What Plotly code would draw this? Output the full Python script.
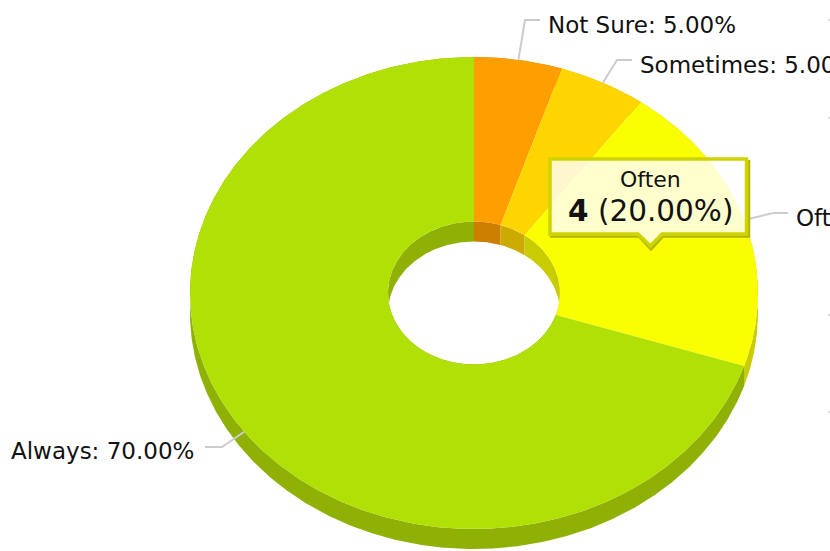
import numpy as np
import plotly.graph_objects as go

categories = ["Not Sure", "Sometimes", "Often", "Always"]
counts = [1, 1, 4, 14]
colors = ["#FF9E00", "#FFD500", "#F9FF00", "#B0E006"]
side_colors = ["#CC7E00", "#CCAA00", "#C8CC00", "#8FB005"]

W, H = 830, 551
CX, CY, RX, RY = 474, 293, 284, 236
DEPTH = 20 / RY
HOLE = 0.303


def px(x, y):
    return (x - CX) / RX, (CY - y) / RY


def arc(a0, a1, r, dy=0.0):
    t = np.radians(np.linspace(a0, a1, max(int(a1 - a0) * 2, 12)))
    return r * np.sin(t), r * np.cos(t) - dy


def band(a0, a1, r0, dy0, r1, dy1):
    x0, y0 = arc(a0, a1, r0, dy0)
    x1, y1 = arc(a0, a1, r1, dy1)
    return np.r_[x0, x1[::-1], x0[0]], np.r_[y0, y1[::-1], y0[0]]


total = sum(counts)
shares = [c / total for c in counts]
edges = np.r_[0, np.cumsum(shares)] * 360
fig = go.Figure()


def fill(x, y, color):
    fig.add_trace(go.Scatter(x=x, y=y, mode="lines", fill="toself", fillcolor=color,
                             line=dict(width=0, color=color), hoverinfo="skip", showlegend=False))


# depth walls first, top faces cover whatever should not show
for i in range(len(counts)):
    fill(*band(edges[i], edges[i + 1], 1, 0, 1, DEPTH), side_colors[i])
for i in range(len(counts)):
    fill(*band(edges[i], edges[i + 1], HOLE, 0, HOLE, DEPTH), side_colors[i])
for i in range(len(counts)):
    fill(*band(edges[i], edges[i + 1], 1, 0, HOLE, 0), colors[i])

# label connectors and labels
knees = [(525, 20), (617, 60), (773, 213), (222, 447)]
ends = [(540, 20), (632, 60), (788, 213), (205, 447)]
label_pos = [(546, 25), (638, 65), (794, 218), (195.5, 451)]
annotations = []
for i, name in enumerate(categories):
    mid_deg = (edges[i] + edges[i + 1]) / 2
    mid = np.radians(mid_deg)
    kx, ky = px(*knees[i])
    ex, ey = px(*ends[i])
    fig.add_trace(go.Scatter(x=[np.sin(mid), kx, ex], y=[np.cos(mid), ky, ey], mode="lines",
                             line=dict(color="#CCCCCC", width=2), hoverinfo="skip", showlegend=False))
    annotations.append(dict(
        x=label_pos[i][0] / W, y=1 - label_pos[i][1] / H, xref="paper", yref="paper",
        text=f"{name}: {shares[i] * 100:.2f}%", showarrow=False,
        xanchor="left" if mid_deg < 180 else "right", yanchor="middle",
        font=dict(family="DejaVu Sans", size=23, color="#111111"),
    ))

# off-canvas connector stubs at the right edge
shapes = [dict(type="line", xref="paper", yref="paper", x0=828 / W, x1=1, y0=1 - y / H, y1=1 - y / H,
               line=dict(color="#DDDDDD", width=2)) for y in (20, 118, 315, 412)]


def paper_path(pts, close=True):
    return "M" + " L".join(f"{x / W:.5f},{1 - y / H:.5f}" for x, y in pts) + (" Z" if close else "")


# tooltip: drop shadow stroke, translucent body with border
shapes.append(dict(type="path", xref="paper", yref="paper", layer="above",
                   line=dict(width=2.5, color="#B4B400"),
                   path=paper_path([(749, 160), (749, 236.5), (663, 236.5), (651, 249.5), (639, 236.5), (550, 236.5)], close=False)))
shapes.append(dict(type="path", xref="paper", yref="paper", layer="above",
                   line=dict(width=3.5, color="#CFD400"), fillcolor="rgba(255,255,255,0.8)",
                   path=paper_path([(550, 159), (746.5, 159), (746.5, 234), (662, 234), (650.5, 246), (638, 234), (550, 234)])))
annotations.append(dict(x=650 / W, y=1 - 180 / H, xref="paper", yref="paper", text="Often",
                        showarrow=False, xanchor="center", yanchor="middle",
                        font=dict(family="DejaVu Sans", size=22, color="#111111")))
annotations.append(dict(x=650 / W, y=1 - 211 / H, xref="paper", yref="paper",
                        text="<b>4</b> (20.00%)", showarrow=False, xanchor="center", yanchor="middle",
                        font=dict(family="DejaVu Sans", size=29.5, color="#111111")))

fig.update_layout(
    width=W, height=H, margin=dict(l=0, r=0, t=0, b=0), paper_bgcolor="white", plot_bgcolor="white",
    showlegend=False, shapes=shapes, annotations=annotations,
    xaxis=dict(range=[-CX / RX, (W - CX) / RX], visible=False, fixedrange=True),
    yaxis=dict(range=[(CY - H) / RY, CY / RY], visible=False, fixedrange=True),
)
fig.write_html("out.html", post_script="document.body.style.margin='0';document.body.style.overflow='hidden';",
               config={"displayModeBar": False})
